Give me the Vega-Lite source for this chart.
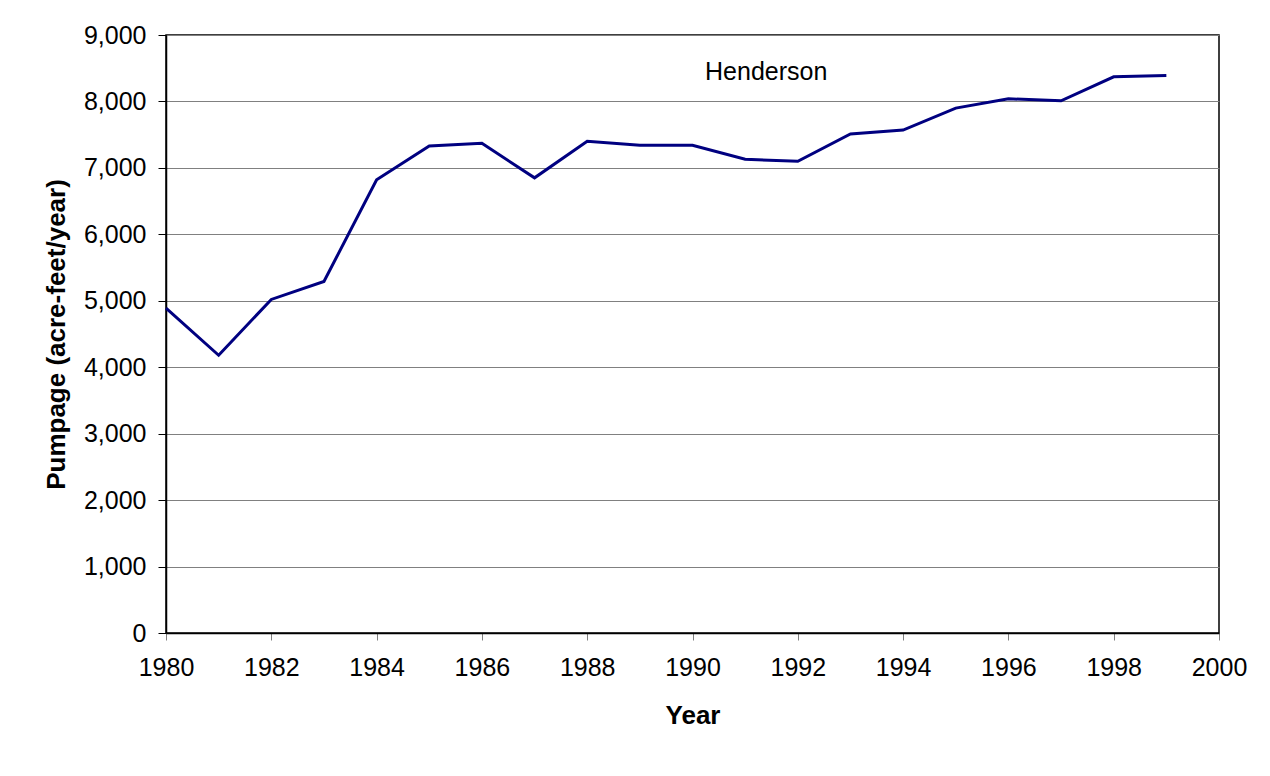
{
  "$schema": "https://vega.github.io/schema/vega-lite/v6.json",
  "width": 1053,
  "height": 598,
  "autosize": {"type": "none"},
  "padding": {"left": 166, "top": 35, "right": 51, "bottom": 143},
  "background": "white",
  "config": {
    "view": {"stroke": "black", "strokeWidth": 1.5},
    "font": "Liberation Sans"
  },
  "datasets": {
    "pump": [
      {"year": 1980, "value": 4890},
      {"year": 1981, "value": 4180},
      {"year": 1982, "value": 5020},
      {"year": 1983, "value": 5290},
      {"year": 1984, "value": 6820},
      {"year": 1985, "value": 7330},
      {"year": 1986, "value": 7370},
      {"year": 1987, "value": 6850},
      {"year": 1988, "value": 7400},
      {"year": 1989, "value": 7340},
      {"year": 1990, "value": 7340},
      {"year": 1991, "value": 7130},
      {"year": 1992, "value": 7100},
      {"year": 1993, "value": 7510},
      {"year": 1994, "value": 7570},
      {"year": 1995, "value": 7900},
      {"year": 1996, "value": 8040},
      {"year": 1997, "value": 8010},
      {"year": 1998, "value": 8370},
      {"year": 1999, "value": 8390}
    ],
    "label": [{"year": 1991.4, "value": 8440, "text": "Henderson"}]
  },
  "layer": [
    {
      "data": {"name": "pump"},
      "mark": {"type": "line", "color": "#000080", "strokeWidth": 3},
      "encoding": {
        "x": {
          "field": "year", "type": "quantitative",
          "scale": {"domain": [1980, 2000], "nice": false, "zero": false},
          "axis": {
            "title": "Year", "values": [1980,1982,1984,1986,1988,1990,1992,1994,1996,1998,2000],
            "format": "d", "grid": false, "domainColor": "black", "domainWidth": 1.5,
            "tickColor": "#808080", "tickSize": 7, "labelFontSize": 25, "labelColor": "black",
            "labelPadding": 15, "labelFlush": false, "titleFontSize": 26, "titleFontWeight": "bold", "titleColor": "black",
            "titlePadding": 22, "labelFont": "Liberation Sans", "titleFont": "Liberation Sans"
          }
        },
        "y": {
          "field": "value", "type": "quantitative",
          "scale": {"domain": [0, 9000], "nice": false},
          "axis": {
            "title": "Pumpage (acre-feet/year)", "values": [0,1000,2000,3000,4000,5000,6000,7000,8000,9000],
            "format": ",.0f", "grid": true, "gridColor": "#808080", "gridOpacity": 1, "gridWidth": 1,
            "domainColor": "black", "domainWidth": 1.5, "tickColor": "black", "tickSize": 8,
            "labelFontSize": 25, "labelColor": "black", "labelPadding": 12, "labelFlush": false,
            "titleFontSize": 26, "titleFontWeight": "bold", "titleColor": "black", "titlePadding": 14,
            "labelFont": "Liberation Sans", "titleFont": "Liberation Sans"
          }
        }
      }
    },
    {
      "data": {"name": "label"},
      "mark": {"type": "text", "fontSize": 25, "color": "black", "font": "Liberation Sans", "align": "center", "baseline": "middle"},
      "encoding": {
        "x": {"field": "year", "type": "quantitative"},
        "y": {"field": "value", "type": "quantitative"},
        "text": {"field": "text"}
      }
    }
  ]
}
